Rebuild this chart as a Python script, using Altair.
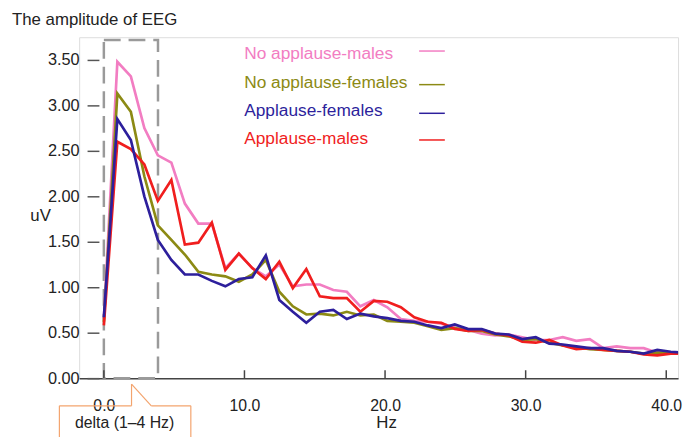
import altair as alt
import pandas as pd

# ---------------- data ----------------
freq_hz = [0, 0.96, 1.92, 2.88, 3.84, 4.8, 5.76, 6.72, 7.68, 8.64, 9.6, 10.56,
           11.52, 12.48, 13.44, 14.4, 15.36, 16.32, 17.28, 18.24, 19.2, 20.16,
           21.12, 22.08, 23.04, 24.0, 24.96, 25.92, 26.88, 27.84, 28.8, 29.76,
           30.72, 31.68, 32.64, 33.6, 34.56, 35.52, 36.48, 37.44, 38.4, 39.36,
           40.32, 41.28]

no_applause_males = [0.65, 3.48, 3.32, 2.75, 2.45, 2.37, 1.92, 1.70, 1.70, 1.21, 1.37, 1.21,
                     1.12, 1.25, 1.01, 1.03, 1.03, 0.97, 0.95, 0.79, 0.86, 0.78,
                     0.65, 0.63, 0.62, 0.60, 0.56, 0.53, 0.49, 0.47, 0.48, 0.45,
                     0.42, 0.42, 0.45, 0.41, 0.43, 0.33, 0.35, 0.33, 0.33, 0.28,
                     0.28, 0.28]
no_applause_females = [0.62, 3.13, 2.93, 2.22, 1.68, 1.52, 1.36, 1.17, 1.14, 1.12, 1.06, 1.14,
                       1.30, 0.95, 0.79, 0.70, 0.71, 0.69, 0.73, 0.69, 0.70, 0.63,
                       0.62, 0.61, 0.57, 0.53, 0.55, 0.52, 0.52, 0.48, 0.46, 0.42,
                       0.43, 0.39, 0.36, 0.34, 0.32, 0.31, 0.30, 0.29, 0.27, 0.28,
                       0.28, 0.27]
applause_females = [0.67, 2.85, 2.62, 2.00, 1.52, 1.30, 1.14, 1.14, 1.07, 1.01, 1.09, 1.11,
                    1.35, 0.86, 0.73, 0.61, 0.73, 0.75, 0.65, 0.71, 0.68, 0.66,
                    0.63, 0.62, 0.58, 0.55, 0.59, 0.54, 0.54, 0.49, 0.48, 0.43,
                    0.45, 0.38, 0.37, 0.35, 0.33, 0.33, 0.30, 0.29, 0.27, 0.31,
                    0.29, 0.28]
applause_males = [0.58, 2.60, 2.52, 2.35, 1.95, 2.18, 1.47, 1.49, 1.71, 1.19, 1.37, 1.21,
                  1.09, 1.28, 0.99, 1.20, 0.90, 0.88, 0.88, 0.73, 0.85, 0.84,
                  0.78, 0.67, 0.62, 0.61, 0.54, 0.52, 0.53, 0.49, 0.47, 0.40,
                  0.39, 0.42, 0.36, 0.32, 0.33, 0.31, 0.30, 0.29, 0.26, 0.25,
                  0.27, 0.27]

series_names = ["No applause-males", "No applause-females", "Applause-females", "Applause-males"]
series_values = [no_applause_males, no_applause_females, applause_females, applause_males]
series_colors = ["#F27DC2", "#8C8A14", "#2D1F9C", "#F01E1E"]
draw_order = [0, 1, 3, 2]

x_ticks = [0, 10, 20, 30, 40]
y_ticks = [0, 0.5, 1.0, 1.5, 2.0, 2.5, 3.0, 3.5]
delta_box = {"x0": [0.0], "x1": [3.85], "y0": [0.0], "y1": [3.72]}

title_text = "The amplitude of EEG"
y_title = "uV"
x_title = "Hz"
delta_label = "delta (1\u20134 Hz)"

# ---------------- layout ----------------
W, H = 606, 345
FONT = "Liberation Sans"

x_scale = alt.Scale(domain=[-1.757, 40.84], nice=False, zero=False)
y_scale = alt.Scale(domain=[0, 3.75], nice=False, zero=False)

x_axis = alt.Axis(values=x_ticks, format=".1f", ticks=False, labelPadding=20,
                  labelFontSize=16, labelFont=FONT, labelColor="#222",
                  domainColor="#444", domainWidth=1.5, grid=False, title=None)
y_axis = alt.Axis(values=y_ticks, format=".2f", domain=False, tickSize=12,
                  tickColor="#555", tickWidth=1.5, offset=-20, labelPadding=8,
                  labelFontSize=16.5, labelFont=FONT, labelColor="#222",
                  grid=False, title=None)


def xe(field):
    return alt.X(field, type="quantitative", scale=x_scale, axis=x_axis)


def ye(field):
    return alt.Y(field, type="quantitative", scale=y_scale, axis=y_axis)


layers = []

# dashed delta band box
box = alt.Chart(pd.DataFrame(delta_box)).mark_rect(
    fillOpacity=0, stroke="#9A9A9A", strokeWidth=2.5, strokeDash=[17, 8]
).encode(x=xe("x0"), x2="x1", y=ye("y0"), y2="y1")
layers.append(box)

# curves
for i in draw_order:
    df = pd.DataFrame({"freq": freq_hz, "value": series_values[i]})
    layers.append(
        alt.Chart(df).mark_line(color=series_colors[i], strokeWidth=2.7, clip=True)
        .encode(x=xe("freq"), y=ye("value"))
    )

# upward x ticks
tick_df = pd.DataFrame({"t": x_ticks})
layers.append(
    alt.Chart(tick_df).mark_rule(color="#444", strokeWidth=1.5)
    .encode(x=xe("t"), y=alt.value(H - 8), y2=alt.value(H))
)


def text_layer(txt, x, y, size, color="#222", align="left", baseline="middle"):
    return alt.Chart(pd.DataFrame({"t": [txt]})).mark_text(
        font=FONT, fontSize=size, color=color, align=align, baseline=baseline
    ).encode(x=alt.value(x), y=alt.value(y), text="t:N")


def seg(x1, y1, x2, y2, color, width):
    return alt.Chart(pd.DataFrame({"a": [0]})).mark_rule(
        color=color, strokeWidth=width
    ).encode(x=alt.value(x1), y=alt.value(y1), x2=alt.value(x2), y2=alt.value(y2))


# titles
layers.append(text_layer(title_text, -68, -17, 17))
layers.append(text_layer(y_title, -39, 181, 17, align="center"))
layers.append(text_layer(x_title, 311, 390, 17, align="center"))

# legend
legend_text_y = [17, 46, 75, 103]
legend_line_y = [14, 48, 77, 104]
for i, name in enumerate(series_names):
    layers.append(text_layer(name, 167, legend_text_y[i], 17.5, color=series_colors[i]))
    layers.append(seg(344, legend_line_y[i], 370, legend_line_y[i], series_colors[i], 1.5))

# delta callout
co = "#F3A46E"
layers.append(seg(-20, 373, 53, 373, co, 1.2))
layers.append(seg(53, 373, 53, 351, co, 1.2))
layers.append(seg(53, 351, 73, 373, co, 1.2))
layers.append(seg(73, 373, 113, 373, co, 1.2))
layers.append(seg(-20, 373, -20, 410, co, 1.2))
layers.append(seg(113, 373, 113, 410, co, 1.2))
layers.append(text_layer(delta_label, 46, 390, 16, align="center"))

chart = alt.layer(*layers).properties(
    width=W, height=H,
    autosize=alt.AutoSizeParams(type="none"),
    padding={"left": 72, "top": 27, "right": 5, "bottom": 57},
).configure_view(stroke=None).configure(background="white")

chart.save("out.html", embed_options={"renderer": "svg", "actions": False})
